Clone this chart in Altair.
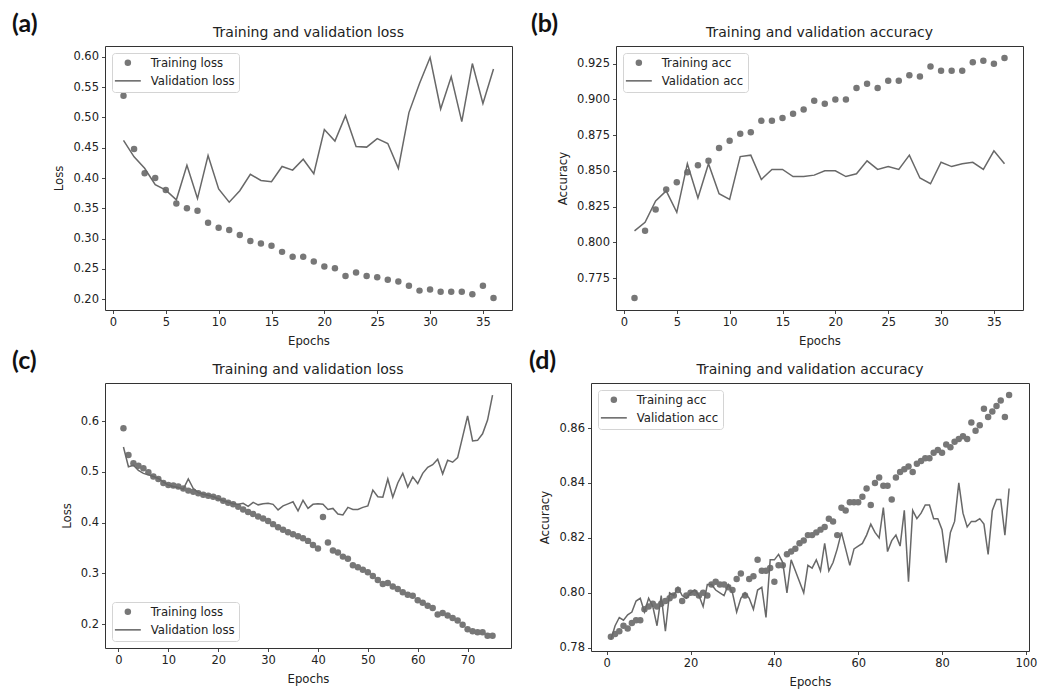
import altair as alt
import pandas as pd

FONT = "DejaVu Sans"
TAGFONT = "Lato"
PT = "#777777"
LN = "#686868"
TXT = "#222222"
LINE_PATH = "M-4,-0.24H4V0.24H-4Z"

# ---------------- data ----------------
a_train = [0.536, 0.448, 0.408, 0.400, 0.380, 0.358, 0.350, 0.346, 0.326, 0.318,
           0.314, 0.306, 0.296, 0.292, 0.288, 0.278, 0.270, 0.270, 0.262, 0.254,
           0.251, 0.238, 0.244, 0.238, 0.236, 0.232, 0.229, 0.222, 0.214, 0.216,
           0.212, 0.212, 0.212, 0.208, 0.222, 0.202]
a_val = [0.462, 0.435, 0.416, 0.389, 0.380, 0.364, 0.421, 0.366, 0.437, 0.382,
         0.360, 0.379, 0.406, 0.396, 0.394, 0.419, 0.413, 0.431, 0.407, 0.480,
         0.461, 0.503, 0.452, 0.451, 0.465, 0.457, 0.416, 0.508, 0.556, 0.599,
         0.514, 0.567, 0.493, 0.589, 0.523, 0.580]

b_train = [0.761, 0.808, 0.823, 0.837, 0.842, 0.849, 0.854, 0.857, 0.866, 0.871,
           0.876, 0.877, 0.885, 0.885, 0.887, 0.890, 0.893, 0.899, 0.897, 0.900,
           0.900, 0.908, 0.911, 0.908, 0.913, 0.913, 0.917, 0.916, 0.923, 0.920,
           0.920, 0.920, 0.926, 0.927, 0.925, 0.929]
b_val = [0.808, 0.814, 0.829, 0.836, 0.821, 0.855, 0.831, 0.855, 0.834, 0.830,
         0.860, 0.861, 0.844, 0.851, 0.851, 0.846, 0.846, 0.847, 0.850, 0.850,
         0.846, 0.848, 0.857, 0.851, 0.853, 0.851, 0.861, 0.845, 0.841, 0.856,
         0.853, 0.855, 0.856, 0.851, 0.864, 0.855]

c_train = [0.586, 0.533, 0.517, 0.512, 0.507, 0.499, 0.491, 0.486, 0.478, 0.474,
           0.473, 0.471, 0.467, 0.463, 0.461, 0.458, 0.455, 0.453, 0.451, 0.448,
           0.443, 0.439, 0.436, 0.431, 0.426, 0.421, 0.417, 0.412, 0.408, 0.403,
           0.397, 0.391, 0.386, 0.381, 0.377, 0.373, 0.369, 0.364, 0.356, 0.349,
           0.411, 0.361, 0.345, 0.341, 0.333, 0.329, 0.316, 0.312, 0.307, 0.302,
           0.295, 0.287, 0.279, 0.281, 0.274, 0.269, 0.263, 0.258, 0.256, 0.247,
           0.242, 0.236, 0.232, 0.219, 0.222, 0.217, 0.212, 0.207, 0.199, 0.190,
           0.186, 0.184, 0.184, 0.177, 0.177]
c_val = [0.549, 0.510, 0.513, 0.503, 0.497, 0.494, 0.491, 0.487, 0.480, 0.474,
         0.471, 0.469, 0.466, 0.486, 0.467, 0.459, 0.456, 0.454, 0.451, 0.447,
         0.443, 0.440, 0.437, 0.436, 0.438, 0.432, 0.440, 0.435, 0.437, 0.438,
         0.436, 0.425, 0.433, 0.437, 0.441, 0.423, 0.444, 0.428, 0.436, 0.437,
         0.436, 0.426, 0.428, 0.417, 0.415, 0.430, 0.426, 0.426, 0.430, 0.433,
         0.464, 0.451, 0.450, 0.486, 0.450, 0.478, 0.497, 0.470, 0.490, 0.477,
         0.497, 0.509, 0.514, 0.525, 0.496, 0.523, 0.519, 0.528, 0.569, 0.610,
         0.561, 0.562, 0.575, 0.602, 0.651]

d_train = [0.784, 0.785, 0.786, 0.788, 0.787, 0.789, 0.790, 0.790, 0.794, 0.795,
           0.796, 0.795, 0.796, 0.797, 0.798, 0.799, 0.801, 0.797, 0.799, 0.800,
           0.800, 0.799, 0.800, 0.799, 0.803, 0.804, 0.803, 0.803, 0.802, 0.801,
           0.805, 0.807, 0.799, 0.805, 0.806, 0.812, 0.808, 0.808, 0.809, 0.804,
           0.810, 0.810, 0.814, 0.815, 0.816, 0.818, 0.819, 0.821, 0.821, 0.822,
           0.823, 0.824, 0.827, 0.826, 0.821, 0.831, 0.830, 0.833, 0.833, 0.833,
           0.835, 0.838, 0.832, 0.840, 0.842, 0.839, 0.839, 0.834, 0.842, 0.844,
           0.845, 0.846, 0.844, 0.847, 0.848, 0.849, 0.849, 0.851, 0.852, 0.851,
           0.854, 0.853, 0.855, 0.856, 0.857, 0.856, 0.862, 0.859, 0.861, 0.867,
           0.864, 0.866, 0.868, 0.870, 0.864, 0.872]
d_val = [0.783, 0.788, 0.791, 0.790, 0.792, 0.793, 0.797, 0.798, 0.793, 0.798,
         0.795, 0.788, 0.799, 0.786, 0.800, 0.799, 0.802, 0.799, 0.798, 0.800,
         0.801, 0.799, 0.795, 0.803, 0.803, 0.801, 0.800, 0.799, 0.803, 0.800,
         0.793, 0.798, 0.800, 0.798, 0.794, 0.801, 0.802, 0.791, 0.812, 0.812,
         0.814, 0.811, 0.800, 0.812, 0.808, 0.804, 0.800, 0.810, 0.809, 0.812,
         0.808, 0.818, 0.808, 0.811, 0.816, 0.822, 0.816, 0.810, 0.816, 0.817,
         0.818, 0.821, 0.825, 0.822, 0.820, 0.831, 0.815, 0.819, 0.821, 0.817,
         0.830, 0.804, 0.830, 0.827, 0.829, 0.832, 0.832, 0.827, 0.827, 0.823,
         0.811, 0.822, 0.826, 0.840, 0.829, 0.824, 0.826, 0.826, 0.827, 0.825,
         0.814, 0.830, 0.834, 0.834, 0.821, 0.838]

x_ticks_36 = [0, 5, 10, 15, 20, 25, 30, 35]
x_ticks_75 = [0, 10, 20, 30, 40, 50, 60, 70]
x_ticks_96 = [0, 20, 40, 60, 80, 100]
y_ticks_a = [0.20, 0.25, 0.30, 0.35, 0.40, 0.45, 0.50, 0.55, 0.60]
y_ticks_b = [0.775, 0.800, 0.825, 0.850, 0.875, 0.900, 0.925]
y_ticks_c = [0.2, 0.3, 0.4, 0.5, 0.6]
y_ticks_d = [0.78, 0.80, 0.82, 0.84, 0.86]


def panel(tag, title, ylabel, train, val, names, xdom, xvals, ydom, yvals,
          yfmt, w, h, lorient, tagx):
    epochs = list(range(1, len(train) + 1))
    df_t = pd.DataFrame({"epoch": epochs, "value": train, "series": names[0]})
    df_v = pd.DataFrame({"epoch": epochs, "value": val, "series": names[1]})
    x = alt.X("epoch:Q", scale=alt.Scale(domain=xdom, nice=False, zero=False),
              axis=alt.Axis(values=xvals, format="d", title="Epochs"))
    y = alt.Y("value:Q", scale=alt.Scale(domain=ydom, nice=False, zero=False),
              axis=alt.Axis(values=yvals, format=yfmt, title=ylabel))
    leg = alt.Legend(title=None, orient=lorient, offset=7, padding=4,
                     strokeColor="#d4d4d4", cornerRadius=3, fillColor="white",
                     labelFont=FONT, labelFontSize=11.7, labelColor=TXT,
                     symbolSize=42, symbolOffset=6, labelOffset=17,
                     rowPadding=5, symbolStrokeWidth=0)
    pts = alt.Chart(df_t).mark_point(filled=True, size=42, opacity=1).encode(
        x=x, y=y,
        color=alt.Color("series:N", scale=alt.Scale(domain=names, range=[PT, LN]), legend=leg),
        shape=alt.Shape("series:N", scale=alt.Scale(domain=names, range=["circle", LINE_PATH]), legend=leg),
    )
    line = alt.Chart(df_v).mark_line(color=LN, strokeWidth=1.5).encode(x=x, y=y)
    labels = pd.DataFrame({"t": [tag], "title": [title]})
    tagmark = alt.Chart(labels).mark_text(
        font=TAGFONT, fontSize=25, fontWeight="bold", color="#111111",
        align="left", baseline="top").encode(
        text="t:N", x=alt.value(tagx), y=alt.value(-34))
    titlemark = alt.Chart(labels).mark_text(
        font=FONT, fontSize=14, color=TXT, align="center",
        baseline="alphabetic").encode(
        text="title:N", x=alt.value(w / 2), y=alt.value(-9))
    return alt.layer(pts, line, tagmark, titlemark).properties(width=w, height=h)


pa = panel("(a)", "Training and validation loss", "Loss", a_train, a_val,
           ["Training loss", "Validation loss"], [-0.75, 37.75], x_ticks_36,
           [0.182, 0.618], y_ticks_a, ".2f", 407, 264, "top-left", -93)
pb = panel("(b)", "Training and validation accuracy", "Accuracy", b_train, b_val,
           ["Training acc", "Validation acc"], [-0.75, 37.75], x_ticks_36,
           [0.7526, 0.9374], y_ticks_b, ".3f", 407, 264, "top-left", -85)
pc = panel("(c)", "Training and validation loss", "Loss", c_train, c_val,
           ["Training loss", "Validation loss"], [-2.7, 78.7], x_ticks_75,
           [0.153, 0.675], y_ticks_c, ".1f", 406, 265, "bottom-left", -93)
pd_ = panel("(d)", "Training and validation accuracy", "Accuracy", d_train, d_val,
            ["Training acc", "Validation acc"], [-3.75, 100.75], x_ticks_96,
            [0.7788, 0.8764], y_ticks_d, ".2f", 438, 268, "top-left", -62)

row1 = alt.hconcat(pa, pb, spacing=17).resolve_scale(
    color="independent", shape="independent", x="independent", y="independent")
row2 = alt.hconcat(pc, pd_, spacing=16).resolve_scale(
    color="independent", shape="independent", x="independent", y="independent")

chart = alt.vconcat(row1, row2, spacing=0).resolve_scale(
    color="independent", shape="independent", x="independent", y="independent"
).configure(
    background="white",
    padding={"left": 11, "top": 11, "right": 0, "bottom": 0},
).configure_view(
    stroke="#333333", strokeWidth=1
).configure_axis(
    domain=False, grid=False, ticks=True, tickColor="#333333", tickSize=3.5,
    tickWidth=0.9, labelFont=FONT, labelFontSize=11.5, labelColor=TXT,
    labelPadding=3, labelFlush=False, labelOverlap=False,
    titleFont=FONT, titleFontSize=11.7, titleFontWeight="normal",
    titleColor=TXT,
).configure_axisX(titlePadding=7).configure_axisY(titlePadding=8)

chart.save("out.html", embed_options={"renderer": "svg", "actions": False})
